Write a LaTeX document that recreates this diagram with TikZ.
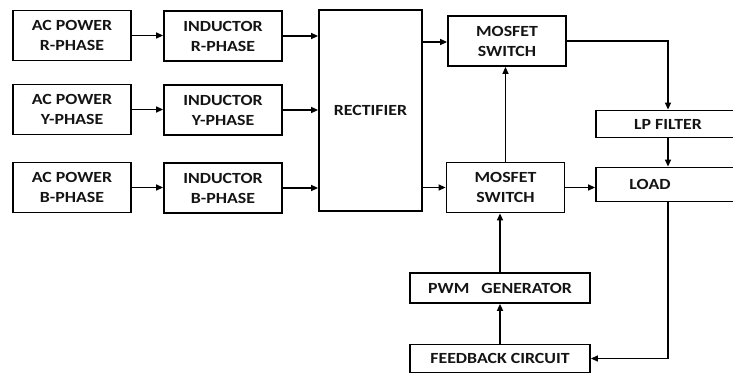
\documentclass[tikz,border=0pt]{standalone}
\usepackage{fontspec}
\setmainfont[FakeStretch=1.15]{Carlito}
\usetikzlibrary{arrows.meta,positioning,calc}
\definecolor{inkgray}{RGB}{20,20,20}
\tikzset{
  blk/.style={draw=black, line width=1.8pt, fill=white, align=center,
              font=\fontsize{15.5}{20}\selectfont\bfseries, text=inkgray,
              inner sep=0pt},
  phasebox/.style={blk, minimum width=118pt, minimum height=50pt},
  wide/.style={blk, minimum width=180pt, minimum height=30pt},
  flowarr/.style={-{Triangle[length=7pt, width=6pt]}, line width=1.3pt},
}
\begin{document}
\begin{tikzpicture}[x=1pt, y=-1pt]
  \useasboundingbox (0,0) rectangle (733,374);
  % --- rectifier and switches
  \node[blk, minimum width=103pt, minimum height=201pt] (rect) at (370.5,110.5) {RECTIFIER};
  \node[phasebox] (mosT) at (507,41) {MOSFET\\SWITCH};
  \node[phasebox] (mosB) at (505.5,187.5) {MOSFET\\SWITCH};
  % --- output side
  \node[blk, minimum width=144pt, minimum height=27pt] (lpf) at (668,124) {LP FILTER};
  \node[blk, minimum width=144pt, minimum height=34pt,
        label={[blk, draw=none, fill=none, xshift=-18pt]center:LOAD}] (load) at (668,184.5) {};
  \node[wide] (pwm) at (500,288) {PWM\ \ \ GENERATOR};
  \node[wide, minimum height=28pt] (fb) at (500,358.5) {FEEDBACK CIRCUIT};
  % --- three phase inputs
  \foreach \i/\y in {R/35.5, Y/109.5, B/187.5}{
    \node[phasebox] (ac\i) at (72,\y) {AC POWER\\\i-PHASE};
    \node[phasebox] (ind\i) at (223,\y+0.5) {INDUCTOR\\\i-PHASE};
    \draw[flowarr] (ac\i.east) -- (ac\i.east -| ind\i.west);
    \draw[flowarr] (ind\i.east) -- (ind\i.east -| rect.west);
  }
  % --- connectors
  \draw[flowarr] (rect.east |- mosT.west) ++(0,1) -- ($(mosT.west)+(0,1)$);
  \draw[flowarr] (rect.east |- mosB.west) -- (mosB.west);
  \draw[flowarr] (mosB.north) -- (mosB.north |- mosT.south);
  \draw[flowarr] (mosT.east) -| (lpf.north);
  \draw[flowarr] (lpf.south) -- (load.north);
  \draw[flowarr] (mosB.east) -- (mosB.east -| load.west);
  \draw[flowarr] (load.south) |- (fb.east);
  \draw[flowarr, line width=2pt] (fb.north) -- (pwm.south);
  \draw[flowarr] (pwm.north) -- (pwm.north |- mosB.south);
\end{tikzpicture}
\end{document}
